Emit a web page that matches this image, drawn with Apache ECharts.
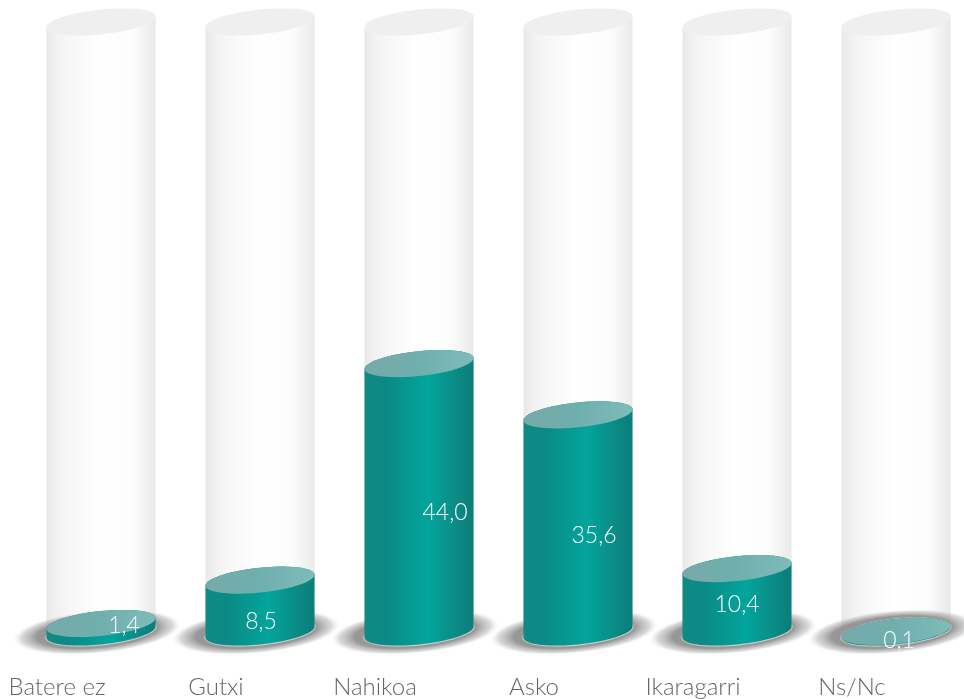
<!DOCTYPE html>
<html><head><meta charset="utf-8">
<style>html,body{margin:0;padding:0;background:#fff}#c{width:964px;height:699px}</style>
<script src="https://cdn.jsdelivr.net/npm/echarts@6/dist/echarts.min.js"></script>
</head><body><div id="c"></div>
<script>
const categories = ['Batere ez','Gutxi','Nahikoa','Asko','Ikaragarri','Ns/Nc'];
const values = [1.4,8.5,44.0,35.6,10.4,0.1];
const valueLabels = ['1,4','8,5','44,0','35,6','10,4','0,1'];
const glassMax = 100;
// manual label placement of the original, px from the middle of each column
const labelNudgeX = [23,1,26,16,0,3];
const labelNudgeY = [-2,16,15,12,4,9];

const FONT = 'Lato, "Open Sans", sans-serif';
const chart = echarts.init(document.getElementById('c'));

function hGrad(stops){return {type:'linear',x:0,y:0,x2:1,y2:0,colorStops:stops.map(s=>({offset:s[0],color:s[1]}))};}
const glassFill = hGrad([[0,'#e8e8e8'],[0.1,'#f2f2f2'],[0.3,'#fafafa'],[0.5,'#ffffff'],[0.8,'#fcfcfc'],[0.93,'#f0f0f0'],[1,'#e9e9e9']]);
const liquidFill = hGrad([[0,'#0f8a85'],[0.2,'#0b8a85'],[0.58,'#02a59d'],[0.85,'#0c8a85'],[0.96,'#0b807c'],[1,'#0e7f7b']]);
const liquidTop = hGrad([[0,'#76aaa9'],[0.5,'#6fafad'],[1,'#7ebcb9']]);

function rim(cx,cy,a,rise,b,from,to){
  const pts=[];const n=48;
  for(let i=0;i<=n;i++){const t=from+(to-from)*i/n;
    pts.push([cx+a*Math.cos(t),cy-rise*Math.cos(t)+b*Math.sin(t)]);}
  return pts;
}
function renderColumn(params,api){
  const i=api.value(0),v=api.value(1);
  const base=api.coord([i,0]),level=api.coord([i,v]),top=api.coord([i,glassMax]);
  const w=api.size([1,0])[0]*0.686,a=w/2,rise=w*0.05,b=w*0.114;
  const cx=base[0],lab=valueLabels[i];
  const body=(y0,y1)=>rim(cx,y1,a,rise,b,0,Math.PI).concat(rim(cx,y0,a,rise,b,Math.PI,2*Math.PI));
  const full=y=>rim(cx,y,a,rise,b,0,2*Math.PI);
  const kids=[];
  kids.push({type:'polygon',shape:{points:body(top[1],base[1]-6)},style:{fill:glassFill}});
  kids.push({type:'polygon',shape:{points:full(top[1])},style:{fill:'#efefef'}});
  kids.push({type:'circle',shape:{cx:0,cy:0,r:10},x:cx-4,y:base[1],scaleX:8.4,scaleY:2.15,rotation:0.09,
    style:{fill:{type:'radial',x:0.5,y:0.5,r:0.5,colorStops:[
      {offset:0,color:'rgba(140,140,140,0.95)'},{offset:0.72,color:'rgba(140,140,140,0.9)'},
      {offset:0.9,color:'rgba(170,170,170,0.45)'},{offset:1,color:'rgba(220,220,220,0)'}]}}});
  kids.push({type:'polygon',shape:{points:rim(cx,base[1],a+1.2,rise,b+1.2,0,2*Math.PI)},style:{fill:'rgba(215,215,215,0.8)'}});
  kids.push({type:'polygon',shape:{points:body(level[1],base[1])},style:{fill:liquidFill}});
  kids.push({type:'polygon',shape:{points:full(level[1])},style:{fill:liquidTop}});
  kids.push({type:'text',x:cx+labelNudgeX[i],y:(base[1]+level[1])/2+labelNudgeY[i],
    style:{text:lab,fill:'#ffffff',font:'300 23px '+FONT,align:'center',verticalAlign:'middle'}});
  return {type:'group',children:kids};
}
chart.setOption({
  animation:false,
  backgroundColor:'#ffffff',
  grid:[
    {left:21.5,width:954,top:22,height:610,outerBoundsMode:'none'},
    {left:-22.5,width:954,top:22,height:610,outerBoundsMode:'none'}
  ],
  xAxis:[
    {gridIndex:0,type:'category',data:categories,axisLine:{show:false},axisTick:{show:false},axisLabel:{show:false}},
    {gridIndex:1,type:'category',data:categories,axisLine:{show:false},axisTick:{show:false},
     axisLabel:{margin:43,color:'#666666',fontSize:24,fontFamily:FONT,fontWeight:300,interval:0}}
  ],
  yAxis:[
    {gridIndex:0,type:'value',min:0,max:glassMax,show:false},
    {gridIndex:1,type:'value',min:0,max:glassMax,show:false}
  ],
  series:[{type:'custom',xAxisIndex:0,yAxisIndex:0,clip:false,
    data:values.map((v,i)=>[i,v]),encode:{x:0,y:1},renderItem:renderColumn}]
});
</script></body></html>
